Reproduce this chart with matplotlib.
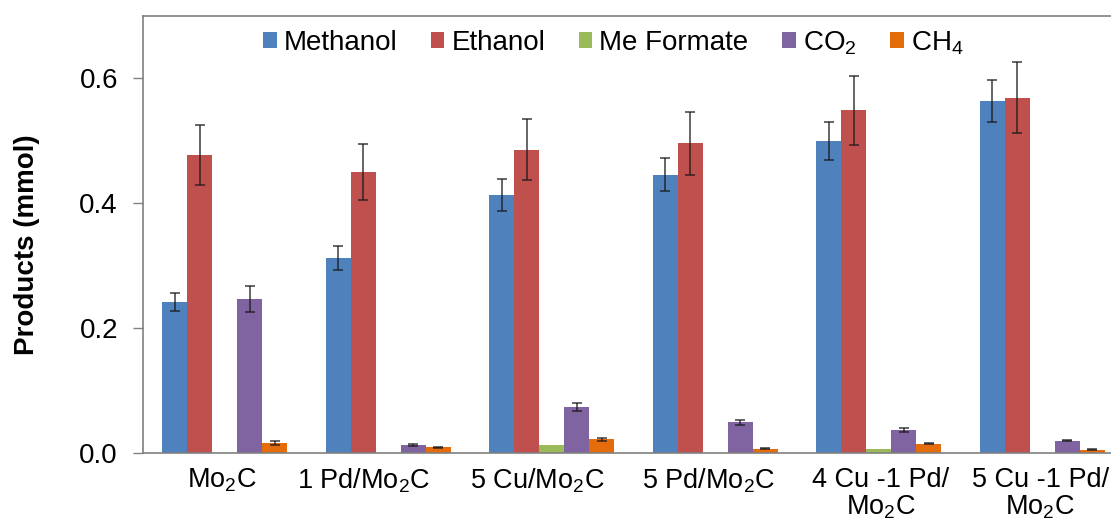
import matplotlib
matplotlib.use('Agg')
import matplotlib.pyplot as plt
import numpy as np
from matplotlib.transforms import ScaledTranslation

plt.rcParams['font.family'] = ['Liberation Sans', 'DejaVu Sans']
plt.rcParams['mathtext.fontset'] = 'custom'
plt.rcParams['mathtext.rm'] = 'Liberation Sans'
plt.rcParams['mathtext.it'] = 'Liberation Sans'
plt.rcParams['mathtext.default'] = 'regular'

catalysts = ['Mo$_2$C', '1 Pd/Mo$_2$C', '5 Cu/Mo$_2$C', '5 Pd/Mo$_2$C',
             '4 Cu -1 Pd/\nMo$_2$C', '5 Cu -1 Pd/\nMo$_2$C']
products = ['Methanol', 'Ethanol', 'Me Formate', 'CO$_2$', 'CH$_4$']

methanol = [0.242, 0.312, 0.413, 0.446, 0.500, 0.564]
ethanol = [0.478, 0.450, 0.486, 0.496, 0.549, 0.569]
me_formate = [0.0, 0.0, 0.013, 0.0, 0.007, 0.0]
co2 = [0.247, 0.013, 0.074, 0.049, 0.037, 0.020]
ch4 = [0.0155, 0.009, 0.022, 0.007, 0.015, 0.0053]

methanol_err = [0.015, 0.019, 0.026, 0.027, 0.030, 0.033]
ethanol_err = [0.048, 0.045, 0.049, 0.050, 0.055, 0.057]
me_formate_err = [0.0, 0.0, 0.0, 0.0, 0.0, 0.0]
co2_err = [0.021, 0.001, 0.006, 0.004, 0.003, 0.001]
ch4_err = [0.003, 0.001, 0.002, 0.001, 0.001, 0.001]

colors = ['#4F81BD', '#C0504D', '#9BBB59', '#8064A2', '#E46C0A']

series = [methanol, ethanol, me_formate, co2, ch4]
errors = [methanol_err, ethanol_err, me_formate_err, co2_err, ch4_err]

fig = plt.figure(figsize=(11.11, 5.23), dpi=100)
ax = fig.add_axes([143 / 1111, 70 / 523, 981 / 1111, 437 / 523])

x = np.arange(len(catalysts))
w = 0.153
handles = []
for i, (vals, errs) in enumerate(zip(series, errors)):
    pos = x + (i - 2) * w
    vals = np.array(vals)
    errs = np.array(errs)
    b = ax.bar(pos, vals, width=w, color=colors[i], linewidth=0,
               label=products[i], zorder=2)
    # error bars only where there is a spread
    m = errs > 0
    if m.any():
        ax.errorbar(pos[m], vals[m], yerr=errs[m], fmt='none', ecolor='#1a1a1a',
                    elinewidth=1.1, capsize=3.8, capthick=1.1, alpha=0.85, zorder=3)
    handles.append(b)

ax.set_xlim(-0.5, 5.5)
ax.set_ylim(0, 0.7)
ax.set_yticks([0.0, 0.2, 0.4, 0.6])
ax.set_yticklabels(['0.0', '0.2', '0.4', '0.6'])
ax.set_xticks(x)
ax.set_xticklabels(catalysts, fontsize=19.5, linespacing=1.05)
ax.tick_params(axis='y', labelsize=20, length=7, width=1, color='#808080', pad=11)
ax.tick_params(axis='x', length=0, pad=10)

# small horizontal nudges of the category labels (pixels)
nudge = [-3, -25, -14, -7, 2, -2]
for lab, dx in zip(ax.get_xticklabels(), nudge):
    lab.set_transform(lab.get_transform() + ScaledTranslation(dx / 100, 0, fig.dpi_scale_trans))

for s in ax.spines.values():
    s.set_color('#808080')
    s.set_linewidth(1.2)

fig.text(27 / 1111, 1 - 245 / 523, 'Products (mmol)', rotation=90,
         ha='center', va='center', fontsize=20, fontweight='bold')

fig.legend(handles=handles, labels=products, loc='center', ncol=5,
           bbox_to_anchor=(613 / 1111, 1 - 43 / 523), frameon=False,
           fontsize=20, handlelength=0.5, handleheight=0.5,
           handletextpad=0.25, columnspacing=1.2)

fig.savefig('out.png', dpi=100)
